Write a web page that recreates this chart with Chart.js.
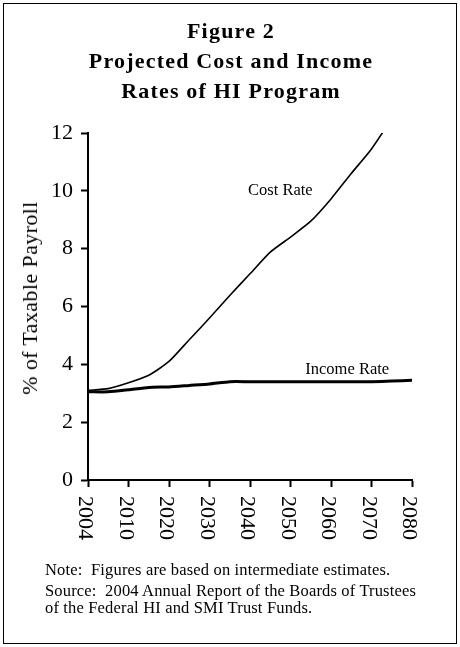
<!DOCTYPE html>
<html>
<head>
<meta charset="utf-8">
<script src="https://cdn.jsdelivr.net/npm/chart.js@4/dist/chart.umd.min.js"></script>
<style>
    html, body { margin: 0; padding: 0; background: #fff; }
    #page { position: relative; width: 460px; height: 647px; overflow: hidden; font-family: "Liberation Serif", "Times New Roman", serif; color: #000; }
    #frame { position: absolute; left: 3px; top: 3px; width: 452px; height: 639px; border: 1px solid #000; }
    #chart-box { position: absolute; left: 0; top: 0; width: 460px; height: 647px; }
    .title { position: absolute; left: 0; width: 462px; text-align: center; font-weight: bold; font-size: 22px; letter-spacing: 1.2px; line-height: 22px; white-space: nowrap; }
    #ytitle { position: absolute; left: 30px; top: 298px; font-size: 22px; letter-spacing: 0.4px; white-space: nowrap; transform: translate(-50%, -50%) rotate(-90deg); }
    .note { position: absolute; left: 45px; font-size: 16.5px; letter-spacing: 0.16px; line-height: 16px; white-space: nowrap; }
</style>
</head>
<body>
<div id="page">
    <div id="frame"></div>
    <div id="chart-box"><canvas id="hi-chart"></canvas></div>
    <div class="title" style="top: 20px;">Figure 2</div>
    <div class="title" style="top: 50px;">Projected Cost and Income</div>
    <div class="title" style="top: 80px;">Rates of HI Program</div>
    <div id="ytitle">% of Taxable Payroll</div>
    <div class="note" style="top: 562px;">Note:&nbsp; Figures are based on intermediate estimates.</div>
    <div class="note" style="top: 583px;">Source:&nbsp; 2004 Annual Report of the Boards of Trustees</div>
    <div class="note" style="top: 600px;">of the Federal HI and SMI Trust Funds.</div>
</div>
<script>
// projection years (every 5 years after 2005), labels shown every other one
const years = ['2004', '2005', '2010', '2015', '2020', '2025', '2030', '2035', '2040',
               '2045', '2050', '2055', '2060', '2065', '2070', '2075', '2080'];
const tickYears = ['2004', '2010', '2020', '2030', '2040', '2050', '2060', '2070', '2080'];

// % of taxable payroll
const costRate = [3.10, 3.16, 3.36, 3.62, 4.10, 4.85, 5.60, 6.38, 7.13,
                  7.88, 8.40, 8.95, 9.72, 10.60, 11.45, 12.50, 13.60];
const incomeRate = [3.05, 3.05, 3.12, 3.20, 3.22, 3.27, 3.32, 3.40, 3.40,
                    3.40, 3.40, 3.40, 3.40, 3.40, 3.40, 3.42, 3.45];

// caption text, position along the category axis, value on the y axis
const captionText = ['Cost Rate', 'Income Rate'];
const captionAt = [9.5, 12.8];
const captionValue = [10.0, 3.83];

const serif = '"Liberation Serif", "Times New Roman", serif';

function isTickYear(i) {
    return tickYears.indexOf(years[i]) !== -1;
}

// draws the rotated year labels (reading top to bottom) and the line captions
const labelPlugin = {
    id: 'hiLabels',
    afterDraw(chart) {
        const ctx = chart.ctx;
        const x = chart.scales.x;
        const y = chart.scales.y;
        ctx.save();
        ctx.fillStyle = '#000';
        ctx.font = '22px ' + serif;
        ctx.textAlign = 'left';
        ctx.textBaseline = 'middle';
        years.forEach((yr, i) => {
            if (!isTickYear(i)) return;
            ctx.save();
            ctx.translate(x.getPixelForTick(i) - 3, y.bottom + 16);
            ctx.rotate(Math.PI / 2);
            ctx.fillText(yr, 0, 0);
            ctx.restore();
        });

        ctx.font = '16.5px ' + serif;
        ctx.textAlign = 'center';
        captionText.forEach((txt, i) => {
            ctx.fillText(txt, x.getPixelForValue(captionAt[i]), y.getPixelForValue(captionValue[i]));
        });
        ctx.restore();
    }
};

new Chart(document.getElementById('hi-chart'), {
    type: 'line',
    data: {
        labels: years,
        datasets: [{
            label: 'Cost Rate',
            data: costRate,
            borderColor: '#000',
            borderWidth: 1.6,
            pointRadius: 0,
            tension: 0.2
        }, {
            label: 'Income Rate',
            data: incomeRate,
            borderColor: '#000',
            borderWidth: 3,
            pointRadius: 0,
            tension: 0.2
        }]
    },
    plugins: [labelPlugin],
    options: {
        responsive: true,
        maintainAspectRatio: false,
        animation: false,
        events: [],
        layout: {
            padding: { left: 18, right: 48, top: 133, bottom: 47 }
        },
        plugins: {
            legend: { display: false },
            tooltip: { enabled: false },
            title: { display: false }
        },
        scales: {
            x: {
                type: 'category',
                offset: false,
                border: { display: true, color: '#000', width: 2 },
                grid: {
                    display: true,
                    drawOnChartArea: false,
                    drawTicks: true,
                    tickLength: 7,
                    tickWidth: 2,
                    color: ctx => isTickYear(ctx.index) ? '#000' : 'rgba(0,0,0,0)'
                },
                ticks: { display: false, autoSkip: false },
                afterFit(scale) {
                    scale.height = 120;
                    scale.paddingLeft = 0;
                    scale.paddingRight = 0;
                }
            },
            y: {
                min: 0,
                max: 12,
                border: { display: true, color: '#000', width: 2 },
                grid: {
                    display: true,
                    drawOnChartArea: false,
                    drawTicks: true,
                    tickLength: 7,
                    tickWidth: 2,
                    color: '#000'
                },
                ticks: {
                    stepSize: 2,
                    color: '#000',
                    padding: 8,
                    font: { family: serif, size: 22 }
                },
                afterFit(scale) {
                    scale.width = 70;
                    scale.paddingTop = 0;
                    scale.paddingBottom = 0;
                }
            }
        }
    }
});
</script>
</body>
</html>
